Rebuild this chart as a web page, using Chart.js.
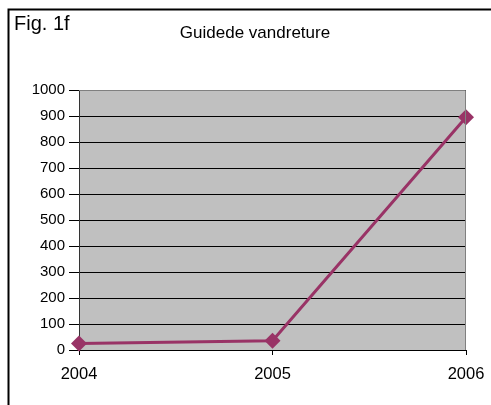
<!DOCTYPE html>
<html>
<head>
<meta charset="utf-8">
<script src="https://cdn.jsdelivr.net/npm/chart.js@4/dist/chart.umd.min.js"></script>
<style>
html,body{margin:0;padding:0;background:#fff;}
#wrap{width:491px;height:405px;position:relative;}
</style>
</head>
<body>
<div id="wrap"><canvas id="c" width="491" height="405"></canvas></div>
<script>
const categories = ["2004", "2005", "2006"];
const values = [25, 36, 895];
const yTicks = [0, 100, 200, 300, 400, 500, 600, 700, 800, 900, 1000];
const chartTitle = "Guidede vandreture";
const figLabel = "Fig. 1f";

const FONT = '"Liberation Sans", Arial, sans-serif';

const decor = {
  id: 'decor',
  beforeDraw(chart) {
    const ctx = chart.ctx, a = chart.chartArea;
    ctx.save();
    ctx.fillStyle = '#fff';
    ctx.fillRect(0, 0, chart.width, chart.height);
    ctx.fillStyle = '#C0C0C0';
    ctx.fillRect(a.left, a.top, a.right - a.left, a.bottom - a.top);
    ctx.restore();
  },
  afterDraw(chart) {
    const ctx = chart.ctx, a = chart.chartArea;
    ctx.save();
    ctx.strokeStyle = '#808080';
    ctx.lineWidth = 1;
    ctx.beginPath();
    ctx.moveTo(a.left, a.top + 0.5);
    ctx.lineTo(a.right - 0.5, a.top + 0.5);
    ctx.lineTo(a.right - 0.5, a.bottom);
    ctx.stroke();
    ctx.strokeStyle = '#000';
    ctx.lineWidth = 2;
    ctx.beginPath();
    ctx.moveTo(8.5, chart.height + 2);
    ctx.lineTo(8.5, 9.5);
    ctx.lineTo(chart.width + 2, 9.5);
    ctx.stroke();
    ctx.fillStyle = '#000';
    ctx.font = '20px ' + FONT;
    ctx.textBaseline = 'alphabetic';
    ctx.textAlign = 'left';
    ctx.fillText(figLabel, 14, 30);
    ctx.font = '17px ' + FONT;
    ctx.textAlign = 'center';
    ctx.fillText(chartTitle, 255, 38);
    ctx.restore();
  }
};

new Chart(document.getElementById('c'), {
  type: 'line',
  data: {
    labels: categories,
    datasets: [{
      data: values,
      borderColor: '#993366',
      backgroundColor: '#993366',
      borderWidth: 3,
      pointStyle: 'rectRot',
      pointRadius: 8,
      pointHoverRadius: 8,
      pointBorderWidth: 0,
      tension: 0,
      clip: false
    }]
  },
  options: {
    responsive: false,
    animation: false,
    devicePixelRatio: 1,
    layout: { padding: { left: 0, top: 90, right: 25, bottom: 0 } },
    plugins: { legend: { display: false }, title: { display: false }, tooltip: { enabled: false } },
    scales: {
      x: {
        type: 'category',
        offset: false,
        afterFit(s) { s.height = 55; s.paddingLeft = 0; s.paddingRight = 0; },
        grid: { drawOnChartArea: false, drawTicks: true, tickLength: 5, tickColor: '#000' },
        border: { display: true, color: '#000', width: 1 },
        ticks: { color: '#000', font: { family: FONT, size: 16.5 }, padding: 10, maxRotation: 0 }
      },
      y: {
        min: 0, max: 1000,
        afterFit(s) { s.width = 79; s.paddingTop = 0; s.paddingBottom = 0; },
        afterBuildTicks(s) { s.ticks = yTicks.map(v => ({ value: v })); },
        grid: { color: '#000', lineWidth: 1, drawTicks: true, tickLength: 10, tickColor: '#000' },
        border: { display: true, color: '#333', width: 1 },
        ticks: { color: '#000', font: { family: FONT, size: 15 }, padding: 4, callback: v => String(v) }
      }
    }
  },
  plugins: [decor]
});
</script>
</body>
</html>
